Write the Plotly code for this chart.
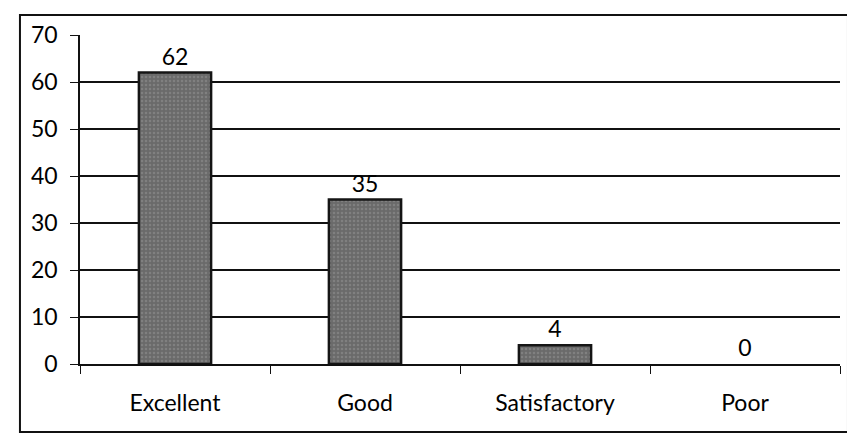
import plotly.graph_objects as go

categories = ["Excellent", "Good", "Satisfactory", "Poor"]
values = [62, 35, 4, 0]
y_ticks = [0, 10, 20, 30, 40, 50, 60, 70]

fig = go.Figure(go.Bar(
    x=categories, y=values,
    text=[str(v) for v in values],
    textposition="outside",
    textfont=dict(size=23, color="#000"),
    cliponaxis=False,
    marker=dict(color="#757575",
                line=dict(color="#151515", width=[2.5 if v > 0 else 0 for v in values]),
                pattern=dict(shape=".", fgcolor="#959595", bgcolor="#6a6a6a", size=4, solidity=0.3)),
    width=0.38,
))

fig.update_layout(
    width=855, height=441,
    margin=dict(l=72, r=23, t=27, b=85),
    paper_bgcolor="white", plot_bgcolor="white",
    font=dict(family="Lato, 'Open Sans', sans-serif", size=23, color="#000"),
    showlegend=False,
    shapes=[dict(type="rect", xref="paper", yref="paper",
                 x0=-0.079, x1=1.0105, y0=-0.207, y1=1.061,
                 line=dict(color="#111", width=2))],
)
fig.update_yaxes(range=[0, 70], tickvals=y_ticks, showgrid=True, gridcolor="#111", gridwidth=1.5,
                 showline=True, linecolor="#111", linewidth=1.5, ticks="outside", ticklen=8,
                 tickcolor="#111", zeroline=False, ticklabelstandoff=8)
fig.update_xaxes(showline=True, linecolor="#111", linewidth=1.5, ticks="outside", tickson="boundaries",
                 ticklen=8, tickcolor="#111", ticklabelstandoff=18)

fig.write_html("out.html")
